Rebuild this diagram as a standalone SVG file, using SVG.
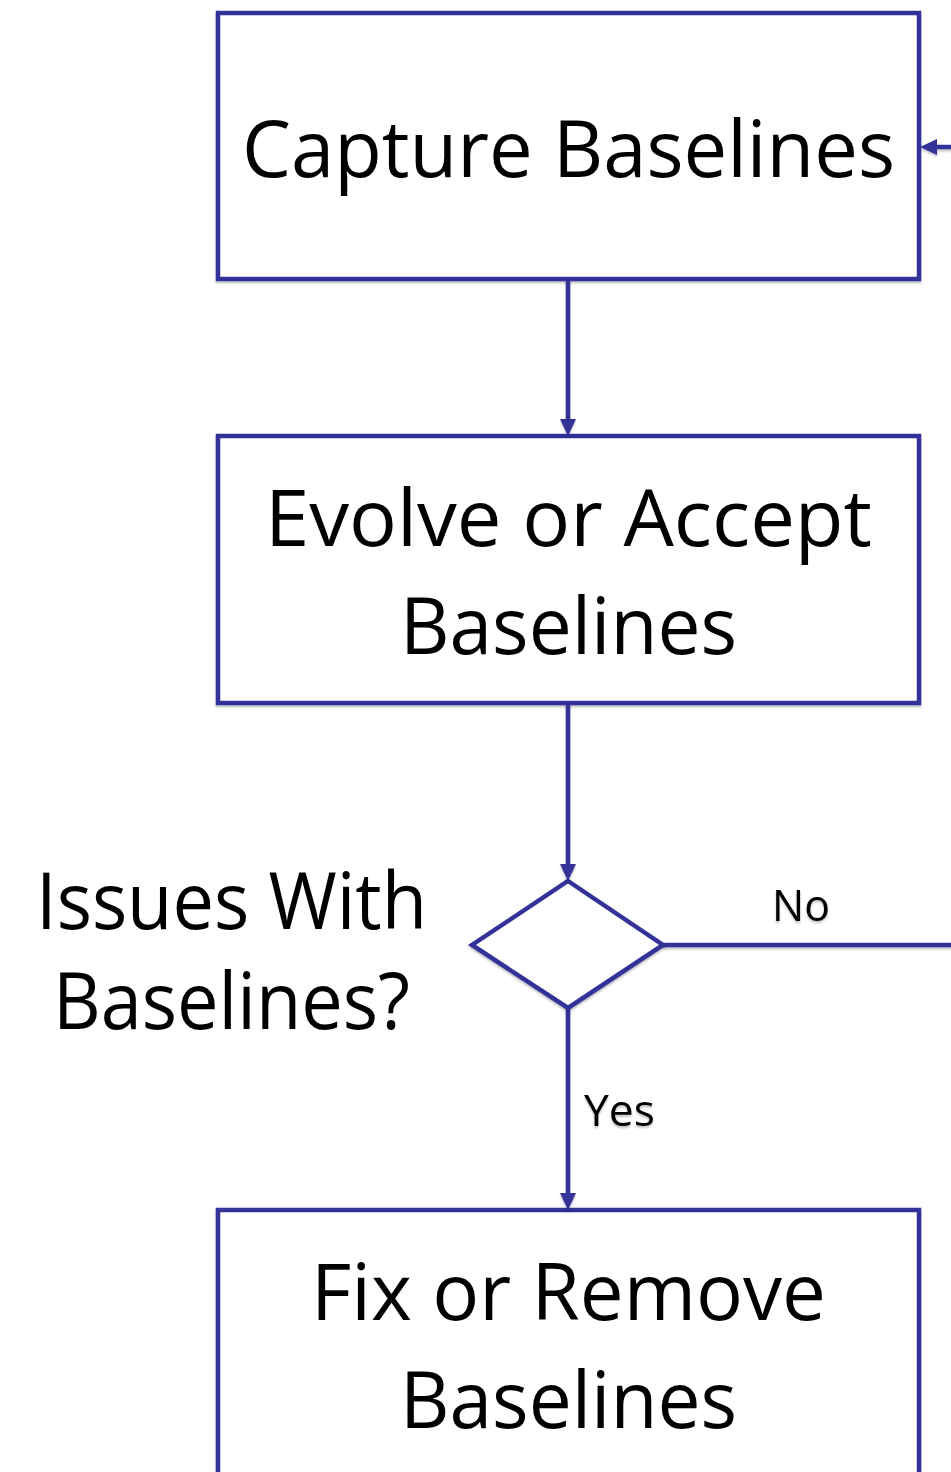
<svg xmlns="http://www.w3.org/2000/svg" width="951" height="1472" viewBox="0 0 951 1472">
  <defs>
    <filter id="shadow" x="-5%" y="-5%" width="110%" height="115%">
      <feDropShadow dx="0" dy="2" stdDeviation="1.2" flood-color="#000" flood-opacity="0.25"/>
    </filter>
    <!-- arrowhead pointing down, tip at origin -->
    <path id="head" d="M-8,-17 L8,-17 L0,0 Z" fill="#333399"/>
  </defs>
  <style>
    .shape { fill: #ffffff; stroke: #333399; stroke-width: 4.5; stroke-linejoin: miter; }
    .link { fill: none; stroke: #333399; stroke-width: 4.5; }
    .big { font-family: "Open Sans", "Liberation Sans", sans-serif; font-size: 78px; fill: #000000; text-anchor: middle; }
    .small { font-family: "Open Sans", "Liberation Sans", sans-serif; font-size: 44px; fill: #000000; }
  </style>
  <rect width="951" height="1472" fill="#ffffff"/>

  <!-- capture step -->
  <g id="capture" filter="url(#shadow)">
    <rect class="shape" x="218" y="13" width="701" height="266"/>
    <text class="big" x="568.5" y="177" textLength="653" lengthAdjust="spacingAndGlyphs">Capture Baselines</text>
  </g>

  <!-- evolve step -->
  <g id="evolve" filter="url(#shadow)">
    <rect class="shape" x="218" y="436" width="701" height="267"/>
    <text class="big" x="568.5" y="546" textLength="607" lengthAdjust="spacingAndGlyphs">Evolve or Accept</text>
    <text class="big" x="568.5" y="654" textLength="337" lengthAdjust="spacingAndGlyphs">Baselines</text>
  </g>

  <!-- decision -->
  <g id="decision">
    <polygon class="shape" filter="url(#shadow)" points="568,881 663,945 568,1008 472,945"/>
    <text class="big" x="231.5" y="929" textLength="391" lengthAdjust="spacingAndGlyphs">Issues With</text>
    <text class="big" x="231.5" y="1029" textLength="357" lengthAdjust="spacingAndGlyphs">Baselines?</text>
  </g>

  <!-- fix step -->
  <g id="fix" filter="url(#shadow)">
    <rect class="shape" x="218" y="1210" width="701" height="300"/>
    <text class="big" x="568.5" y="1320" textLength="515" lengthAdjust="spacingAndGlyphs">Fix or Remove</text>
    <text class="big" x="568.5" y="1428" textLength="337" lengthAdjust="spacingAndGlyphs">Baselines</text>
  </g>

  <!-- connectors -->
  <g id="connectors" filter="url(#shadow)">
    <line class="link" x1="568" y1="281" x2="568" y2="424"/>
    <use href="#head" transform="translate(568,436)"/>
    <line class="link" x1="568" y1="705" x2="568" y2="869"/>
    <use href="#head" transform="translate(568,881)"/>
    <line class="link" x1="568" y1="1008" x2="568" y2="1198"/>
    <use href="#head" transform="translate(568,1210)"/>
    <line class="link" x1="663" y1="945" x2="960" y2="945"/>
    <line class="link" x1="960" y1="147" x2="931" y2="147"/>
    <use href="#head" transform="translate(920,147) rotate(90)"/>
    <text class="small" x="772" y="921" textLength="58" lengthAdjust="spacingAndGlyphs">No</text>
    <text class="small" x="584" y="1126" textLength="71" lengthAdjust="spacingAndGlyphs">Yes</text>
  </g>
</svg>
